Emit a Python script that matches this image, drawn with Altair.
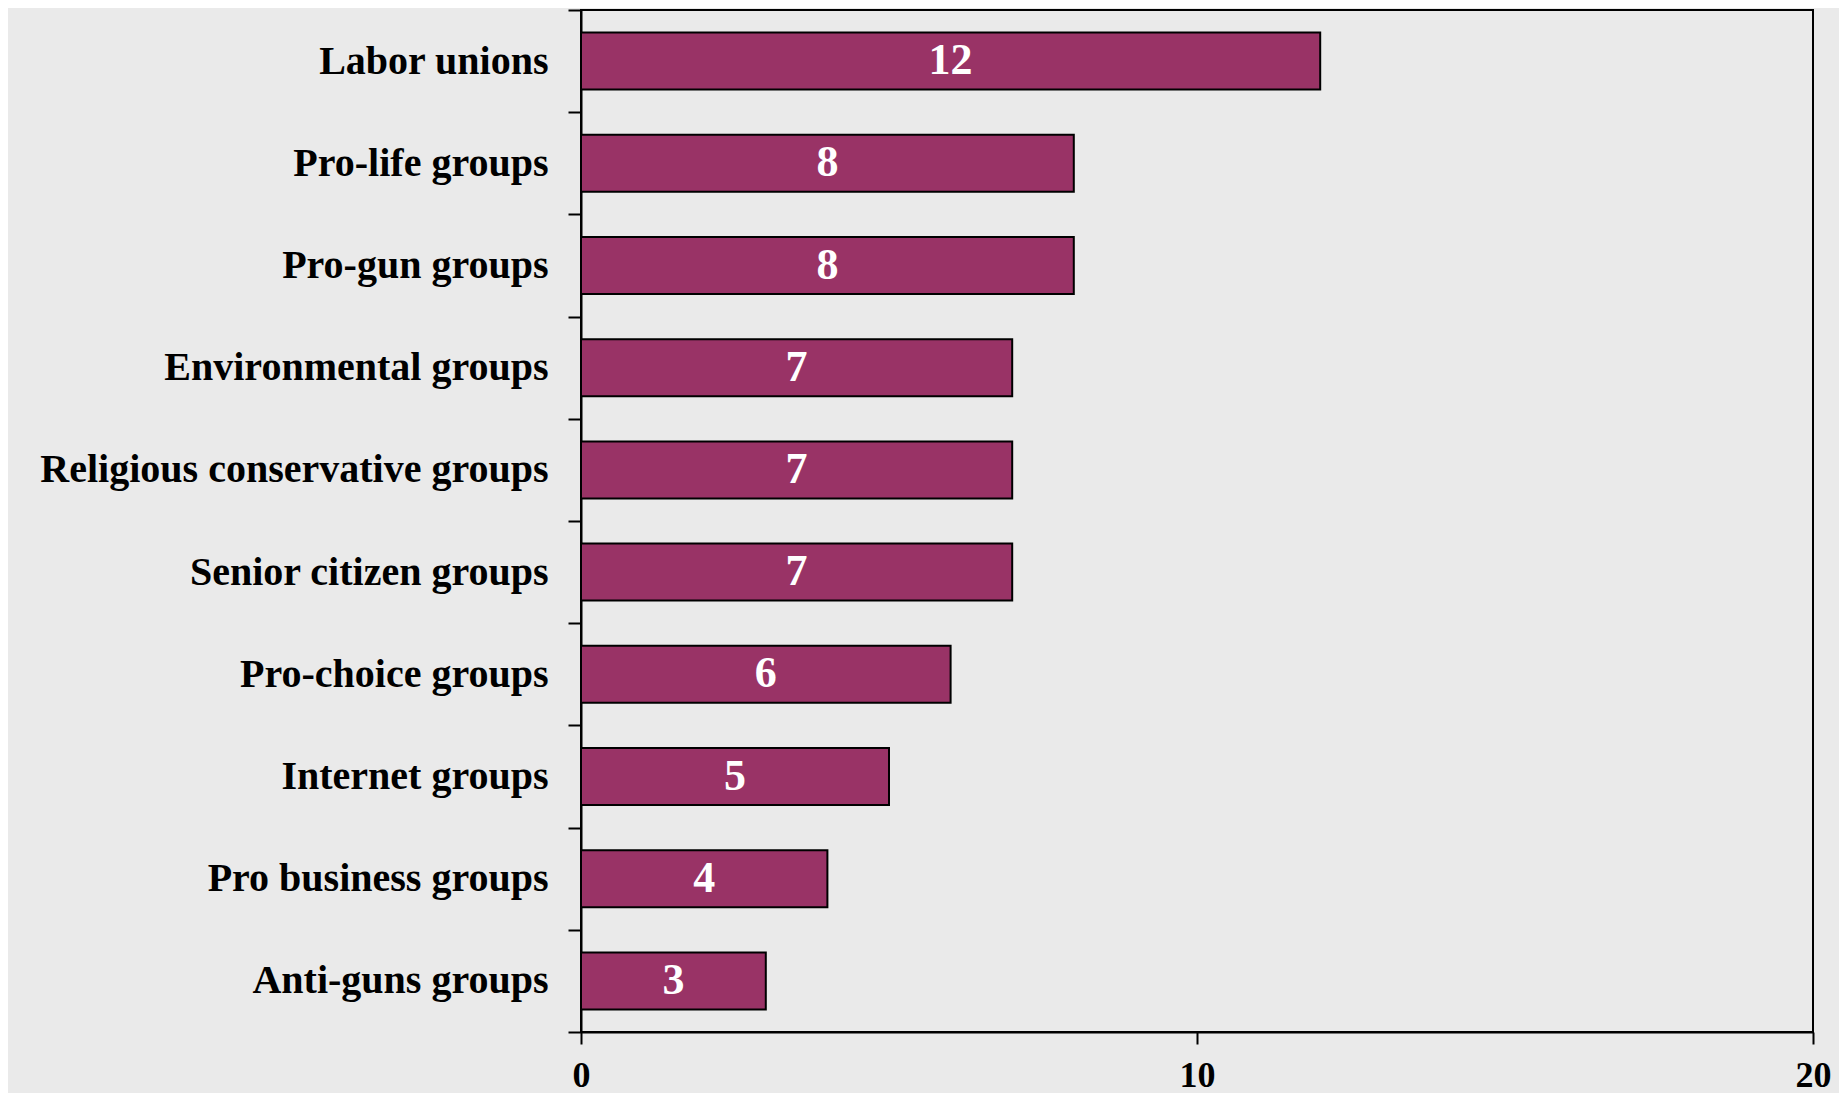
import altair as alt
import pandas as pd

categories = [
    "Labor unions",
    "Pro-life groups",
    "Pro-gun groups",
    "Environmental groups",
    "Religious conservative groups\u00a0",
    "Senior citizen groups",
    "Pro-choice groups",
    "Internet groups",
    "Pro business groups",
    "Anti-guns groups",
]
values = [12, 8, 8, 7, 7, 7, 6, 5, 4, 3]
x_ticks = [0, 10, 20]

df = pd.DataFrame({"group": categories, "value": values})

FONT = "Liberation Serif"
BG = "#EAEAEA"

y_enc = alt.Y(
    "group:N",
    sort=categories,
    scale=alt.Scale(paddingInner=0, paddingOuter=0),
    axis=alt.Axis(
        title=None,
        tickBand="extent",
        labelFont=FONT,
        labelFontSize=40,
        labelFontWeight="bold",
        labelColor="black",
        labelPadding=20,
        tickSize=13,
        tickWidth=2,
        tickColor="black",
        domainColor="black",
        domainWidth=2,
        labelLimit=1000,
    ),
)

x_enc = alt.X(
    "value:Q",
    scale=alt.Scale(domain=[0, 20], nice=False),
    axis=alt.Axis(
        title=None,
        values=x_ticks,
        format="d",
        grid=False,
        labelFont=FONT,
        labelFontSize=36,
        labelFontWeight="bold",
        labelColor="black",
        labelPadding=14,
        tickSize=12,
        tickWidth=2,
        tickColor="black",
        domainColor="black",
        domainWidth=2,
        labelFlush=False,
    ),
)

bars = alt.Chart(df).mark_bar(
    color="#993366", stroke="black", strokeWidth=2
).encode(y=y_enc, x=x_enc, size=alt.value(57))

labels = alt.Chart(df).transform_calculate(
    mid="datum.value / 2"
).mark_text(
    font=FONT, fontSize=44, fontWeight="bold", color="white", baseline="middle", align="center"
).encode(
    y=alt.Y("group:N", sort=categories),
    x=alt.X("mid:Q"),
    text=alt.Text("value:Q"),
)

chart = (
    alt.layer(bars, labels)
    .properties(
        width=1232,
        height=1022,
        autosize=alt.AutoSizeParams(type="none"),
        padding={"left": 573, "top": 2, "right": 26, "bottom": 61},
        background=BG,
    )
    .configure_view(stroke="black", strokeWidth=2, fill=BG)
)

chart.save("out.html", embed_options={"renderer": "svg", "actions": False})
